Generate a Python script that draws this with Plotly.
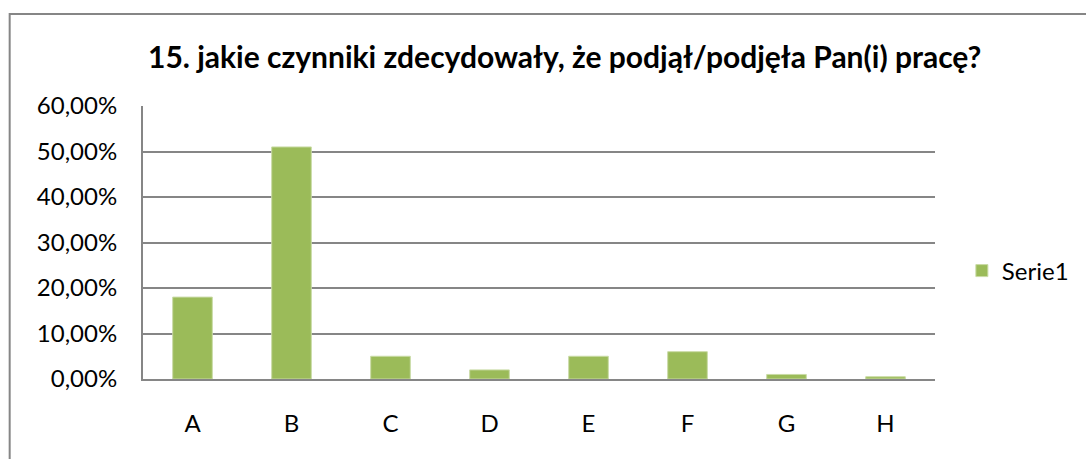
import plotly.graph_objects as go

categories = ["A", "B", "C", "D", "E", "F", "G", "H"]
values = [0.18, 0.51, 0.05, 0.02, 0.05, 0.06, 0.01, 0.005]
series_name = "Serie1"
title_text = "15. jakie czynniki zdecydowały, że podjął/podjęła Pan(i) pracę?"
y_tickvals = [0, 0.1, 0.2, 0.3, 0.4, 0.5, 0.6]
y_ticktext = ["0,00%", "10,00%", "20,00%", "30,00%", "40,00%", "50,00%", "60,00%"]

W, H = 1086, 459
L, R, T, B = 143, 147, 106, 80
pw, ph = W - L - R, H - T - B

def px_x(p):
    return (p - L) / pw

def px_y(p):
    return (H - B - p) / ph

FONT = "Lato"
GRID = "#868686"
TICK_SIZE = 24

fig = go.Figure()
fig.add_trace(go.Bar(
    x=categories, y=values, name=series_name,
    marker=dict(color="#9BBB59", line=dict(color="#C9DBA5", width=1)),
    showlegend=True,
))

fig.update_layout(
    width=W, height=H,
    margin=dict(l=L, r=R, t=T, b=B, pad=0),
    paper_bgcolor="white", plot_bgcolor="white",
    font=dict(family=FONT, color="black", size=TICK_SIZE),
    bargap=0.6,
    title=dict(text="<b>" + title_text + "</b>", x=0.52, xanchor="center",
               y=1 - 57 / H, yanchor="middle",
               font=dict(family=FONT, size=30, color="black")),
    showlegend=True,
    legend=dict(x=px_x(966), xanchor="left", y=px_y(271), yanchor="middle",
                font=dict(family=FONT, size=TICK_SIZE, color="black"),
                itemwidth=30, bgcolor="rgba(0,0,0,0)"),
    xaxis=dict(showgrid=False, showline=True, linecolor=GRID, linewidth=2,
               ticks="", ticklabelstandoff=22,
               tickfont=dict(family=FONT, size=TICK_SIZE, color="black")),
    yaxis=dict(range=[0, 0.6], tickvals=y_tickvals, ticktext=y_ticktext,
               showgrid=True, gridcolor=GRID, gridwidth=2,
               showline=True, linecolor=GRID, linewidth=2,
               ticks="", ticklabelstandoff=19, zeroline=False,
               tickfont=dict(family=FONT, size=TICK_SIZE, color="black")),
    shapes=[dict(type="rect", xref="paper", yref="paper",
                 x0=px_x(9), x1=px_x(1100), y0=px_y(480), y1=px_y(14),
                 line=dict(color=GRID, width=2), fillcolor="rgba(0,0,0,0)",
                 layer="below")],
)

fig.write_html("out.html", config={"displayModeBar": False},
               post_script="document.body.style.margin='0';")
